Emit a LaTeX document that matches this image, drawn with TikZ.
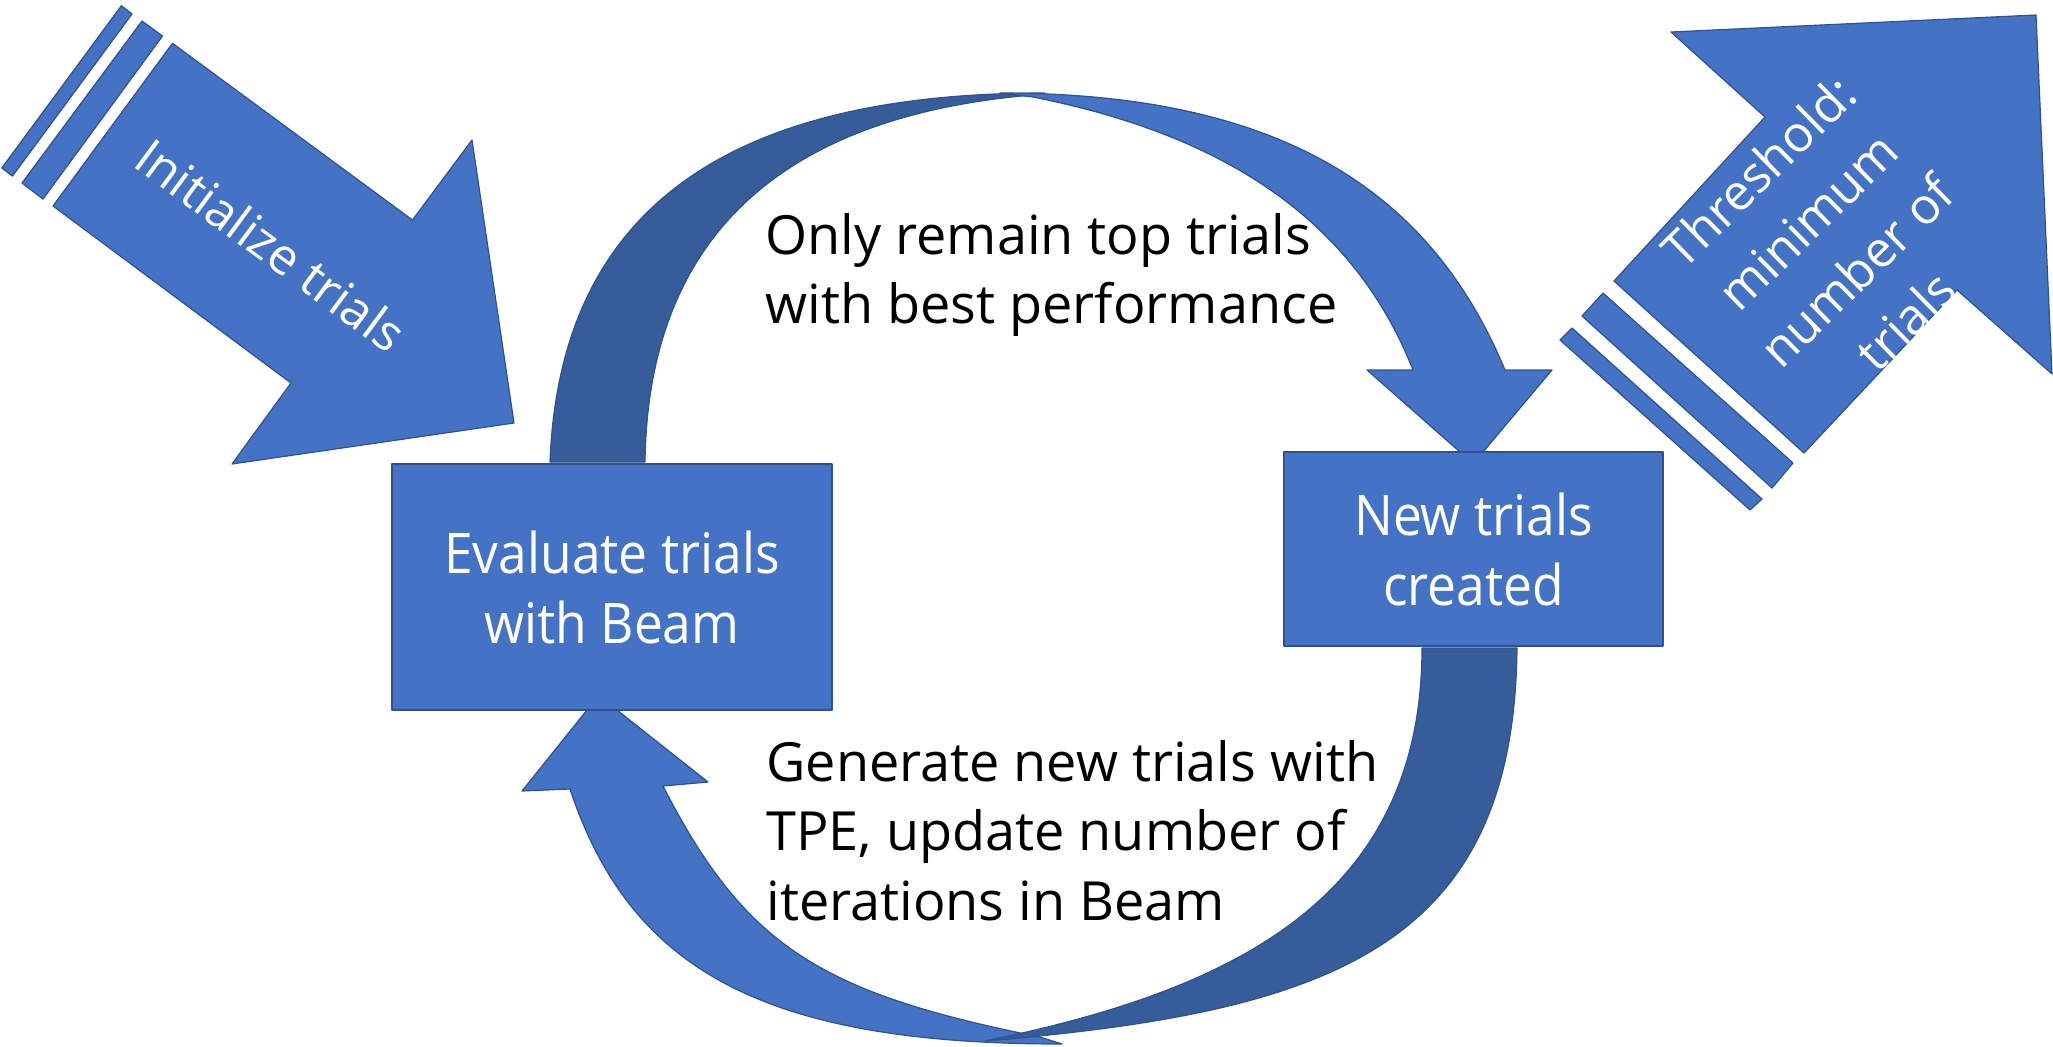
\documentclass[tikz,border=0pt]{standalone}
\usepackage{fontspec}
\setmainfont{Open Sans}
\newfontfamily\boxfont{Open Sans}[FakeStretch=0.92]
\definecolor{fillblue}{RGB}{68,114,196}
\definecolor{shadeblue}{RGB}{54,92,154}
\definecolor{lineblue}{RGB}{47,82,143}
\begin{document}
\begin{tikzpicture}[x=0.5pt,y=-0.5pt,
  bluefill/.style={fill=fillblue, draw=lineblue, line width=0.6pt, line join=round},
  backfill/.style={fill=shadeblue, draw=lineblue, line width=0.6pt, line join=round},
  box/.style={bluefill, rectangle, inner sep=0pt, outer sep=0pt, text=white, align=center,
    font=\boxfont\fontsize{28}{35}\selectfont},
  lbl/.style={inner sep=0pt, align=left, text=black, font=\fontsize{27}{34.75}\selectfont},
  rottext/.style={inner sep=0pt, text=white, align=center, font=\fontsize{25}{35}\selectfont}]
\useasboundingbox (0,0) rectangle (2053,1046);

% ---- Initialize trials striped arrow ----
\filldraw[bluefill] (121.4,5.7) -- (132,14) -- (12.5,176) -- (1.8,168) -- cycle;
\filldraw[bluefill] (142,21) -- (162.5,36) -- (43,199) -- (22,183) -- cycle;
\filldraw[bluefill] (172.5,43.3) -- (412.5,220) -- (472,140) -- (514,423) -- (232,464) -- (291,383) -- (53,206) -- cycle;
\node[rottext, rotate=-36.4] (initlabel) at (271,245) {Initialize trials};

% ---- Threshold striped arrow ----
\filldraw[bluefill] (1572,328) -- (1762,499) -- (1750,510) -- (1560,340) -- cycle;
\filldraw[bluefill] (1603,293) -- (1793,463) -- (1772,488) -- (1582,316) -- cycle;
\filldraw[bluefill] (1671,32) -- (2036,15) -- (2052,374) -- (1957,290) -- (1804,453) -- (1614,281) -- (1765,117) -- cycle;
\node[rottext, rotate=44.5] (thrlabel) at (1832,246) {Threshold:\\minimum\\number of\\trials};

% ---- top curved arrow ----
\filldraw[backfill] (550,462) .. controls (560,200) and (740,93) .. (1045,93)
  -- (1045,94) .. controls (790,112) and (648,230) .. (645,462) -- cycle;
\filldraw[bluefill] (1000,93) .. controls (1280,93) and (1430,190) .. (1505,370)
  -- (1552,370) -- (1483,452) -- (1460,452) -- (1367,370) -- (1413,370)
  .. controls (1345.5,199) and (1193,129) .. (1033,97) -- cycle;

% ---- bottom curved arrow ----
\filldraw[bluefill] (570,789) .. controls (630,969) and (762,1044) .. (1062,1044)
  -- (1040,1037) .. controls (820,993) and (745,946) .. (663,786)
  -- (708,782) -- (617,710) -- (587,710) -- (522,791) -- cycle;
\filldraw[backfill] (1517,648) .. controls (1514,948) and (1330,1012) .. (985,1041)
  .. controls (1235,990) and (1422,898) .. (1422,648) -- cycle;

% ---- boxes ----
\node[box, minimum width=220pt, minimum height=123pt] (eval) at (612,587) {Evaluate trials\\with Beam};
\node[box, minimum width=189.5pt, minimum height=97pt] (newtrials) at (1473.5,549) {New trials\\created};

% ---- labels ----
\node[lbl, anchor=north west] (toplabel) at (765,213) {Only remain top trials\\with best performance};
\node[lbl, anchor=north west] (botlabel) at (766,740) {Generate new trials with\\TPE, update number of\\iterations in Beam};
\end{tikzpicture}
\end{document}
